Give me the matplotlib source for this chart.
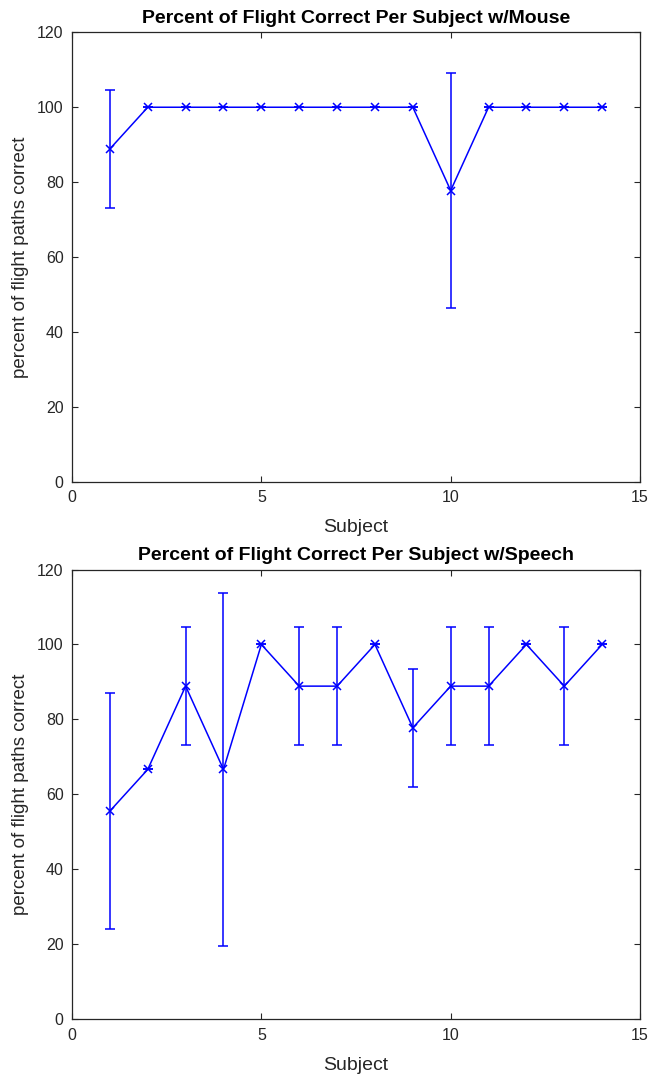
import numpy as np
import matplotlib
matplotlib.use('Agg')
import matplotlib.pyplot as plt

plt.rcParams['font.family'] = ['Liberation Sans', 'DejaVu Sans']

# Data
subjects = np.arange(1, 15)
mouse_pct = [88.89, 100, 100, 100, 100, 100, 100, 100, 100, 77.78, 100, 100, 100, 100]
mouse_err = [15.71, 0, 0, 0, 0, 0, 0, 0, 0, 31.43, 0, 0, 0, 0]
speech_pct = [55.56, 66.67, 88.89, 66.67, 100, 88.89, 88.89, 100, 77.78, 88.89, 88.89, 100, 88.89, 100]
speech_err = [31.43, 0, 15.71, 47.14, 0, 15.71, 15.71, 0, 15.71, 15.71, 15.71, 0, 15.71, 0]

xticks = [0, 5, 10, 15]
yticks = [0, 20, 40, 60, 80, 100, 120]

TXT = '#262626'

fig = plt.figure(figsize=(6.62, 10.76), dpi=100)
ax_top = fig.add_axes([0.1088, 0.552, 0.858, 0.418])
ax_bot = fig.add_axes([0.1088, 0.0527, 0.858, 0.418])


def draw(ax, y, err, title):
    ax.errorbar(subjects, y, yerr=err, color='#0000ff', lw=1.1, elinewidth=1.1,
                capsize=3.5, capthick=1.1, marker='x', ms=5.5, mew=1.1)
    ax.set_xlim(0, 15)
    ax.set_ylim(0, 120)
    ax.set_xticks(xticks)
    ax.set_yticks(yticks)
    ax.tick_params(direction='in', length=4, width=0.8, top=True, right=True,
                   labelsize=11.5, colors=TXT, pad=6)
    for s in ax.spines.values():
        s.set_color(TXT)
        s.set_linewidth(0.9)
    ax.set_xlabel('Subject', fontsize=14, color=TXT, labelpad=10)
    ax.set_ylabel('percent of flight paths correct', fontsize=13.5, color=TXT, labelpad=6)
    ax.set_title(title, fontsize=14, fontweight='bold', color='black', pad=7)


draw(ax_top, mouse_pct, mouse_err, 'Percent of Flight Correct Per Subject w/Mouse')
draw(ax_bot, speech_pct, speech_err, 'Percent of Flight Correct Per Subject w/Speech')

fig.savefig('out.png', dpi=100)
